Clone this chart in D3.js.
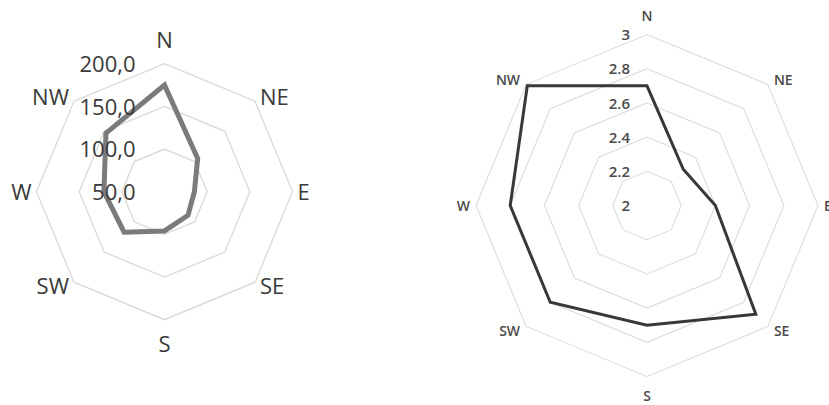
<!DOCTYPE html>
<html>
<head>
<meta charset="utf-8">
<script src="https://cdn.jsdelivr.net/npm/d3@7/dist/d3.min.js"></script>
<style>
  html, body { margin: 0; padding: 0; background: #fff; }
  svg { display: block; }
</style>
</head>
<body>
<svg id="chart" width="829" height="405"></svg>
<script>
// ---- data ----
const directions = ["N", "NE", "E", "SE", "S", "SW", "W", "NW"];

const leftValues = [175, 105, 85, 89, 96, 117, 121, 147];
const leftTickValues = [50, 100, 150, 200];
const leftTickLabels = ["50,0", "100,0", "150,0", "200,0"];

const rightValues = [2.70, 2.30, 2.40, 2.90, 2.70, 2.80, 2.80, 2.99];
const rightTickValues = [2, 2.2, 2.4, 2.6, 2.8, 3];
const rightTickLabels = ["2", "2.2", "2.4", "2.6", "2.8", "3"];

const svg = d3.select("#chart");

function radar(cfg) {
  const g = svg.append("g").attr("transform", `translate(${cfg.cx},${cfg.cy})`);
  const r = d3.scaleLinear().domain(cfg.domain).range([0, cfg.R]);
  const ang = d3.scalePoint().domain(directions).range([0, 2 * Math.PI * (directions.length) / directions.length]).padding(0);
  const step = 2 * Math.PI / directions.length;
  const angle = (d, i) => i * step;
  const pt = (i, v) => [Math.sin(angle(null, i)) * r(v), -Math.cos(angle(null, i)) * r(v)];

  const ringLine = d3.lineRadial().angle((d, i) => angle(d, i)).radius(d => r(d)).curve(d3.curveLinearClosed);

  // gridlines
  g.selectAll("path.ring").data(cfg.ticks.filter(t => r(t) > 0)).enter()
    .append("path").attr("class", "ring")
    .attr("d", t => ringLine(directions.map(() => t)))
    .attr("fill", "none")
    .attr("stroke", cfg.gridColor)
    .attr("stroke-width", cfg.gridWidth);

  // series
  g.append("path")
    .attr("d", ringLine(cfg.values))
    .attr("fill", "none")
    .attr("stroke", cfg.lineColor)
    .attr("stroke-width", cfg.lineWidth)
    .attr("stroke-linejoin", "miter");

  // tick labels
  g.selectAll("text.tick").data(cfg.ticks).enter()
    .append("text").attr("class", "tick")
    .attr("x", -cfg.tickGap)
    .attr("y", t => -r(t))
    .attr("dy", "0.38em")
    .attr("text-anchor", "end")
    .attr("font-family", cfg.font)
    .attr("font-size", cfg.tickSize)
    .attr("font-weight", cfg.weight)
    .attr("fill", cfg.textColor)
    .text((t, i) => cfg.tickLabels[i]);

  // category labels
  g.selectAll("text.cat").data(directions).enter()
    .append("text").attr("class", "cat")
    .each(function (d, i) {
      const a = angle(d, i);
      const s = Math.sin(a), c = Math.cos(a);
      const [vx, vy] = pt(i, cfg.domain[1]);
      let x, y, anchor;
      if (Math.abs(s) < 1e-6) {
        anchor = "middle"; x = vx; y = vy - c * cfg.padNS;
      } else {
        anchor = s > 0 ? "start" : "end";
        x = vx + Math.sign(s) * cfg.padH;
        y = vy - c * cfg.padDiag;
      }
      d3.select(this)
        .attr("x", x).attr("y", y).attr("dy", "0.36em")
        .attr("text-anchor", anchor);
    })
    .attr("font-family", cfg.font)
    .attr("font-size", cfg.catSize)
    .attr("font-weight", cfg.weight)
    .attr("fill", cfg.textColor)
    .text(d => d);
}

radar({
  cx: 164.5, cy: 191.7, R: 128,
  domain: [50, 200],
  values: leftValues,
  ticks: leftTickValues, tickLabels: leftTickLabels,
  gridColor: "#d9d9d9", gridWidth: 1.3,
  lineColor: "#7b7b7d", lineWidth: 5,
  font: "'Open Sans', sans-serif", tickSize: 22, catSize: 22, weight: 400,
  textColor: "#3a3a3a",
  tickGap: 29, padNS: 24, padH: 5, padDiag: 6
});

radar({
  cx: 647, cy: 205.5, R: 171,
  domain: [2, 3],
  values: rightValues,
  ticks: rightTickValues, tickLabels: rightTickLabels,
  gridColor: "#dcdcdc", gridWidth: 1.1,
  lineColor: "#383838", lineWidth: 3,
  font: "'Open Sans', sans-serif", tickSize: 15, catSize: 14, weight: 600,
  textColor: "#4a4a4a",
  tickGap: 17, padNS: 19, padH: 6, padDiag: 7
});
</script>
</body>
</html>
